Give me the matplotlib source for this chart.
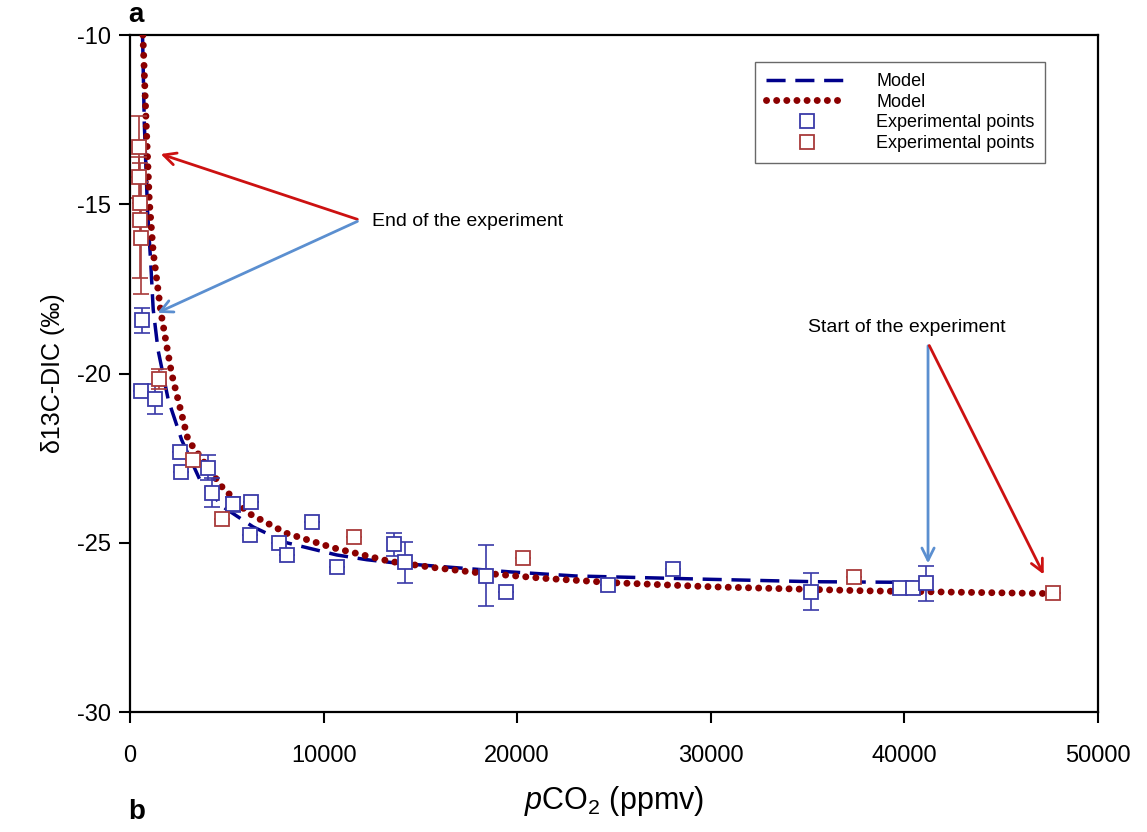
import matplotlib
matplotlib.use('Agg')
import matplotlib.pyplot as plt

# experimental points (blue series)
blue_x = [600, 550, 1290, 2580, 2620, 4050, 4220, 5300, 6230, 6200, 7710, 8090, 9380,
          10700, 13650, 14200, 18370, 19420, 24710, 28060, 35170, 39770, 40460, 41110]
blue_y = [-18.42, -20.51, -20.76, -22.31, -22.90, -22.78, -23.52, -23.86, -23.80, -24.77, -25.00, -25.36, -24.39,
          -25.73, -25.05, -25.58, -25.98, -26.44, -26.25, -25.78, -26.44, -26.33, -26.33, -26.20]
blue_err = [0.37, 0, 0.44, 0, 0, 0.37, 0.43, 0.22, 0, 0, 0, 0, 0,
            0, 0.35, 0.61, 0.90, 0, 0, 0, 0.56, 0, 0, 0.52]

# experimental points (red series)
red_x = [480, 460, 500, 520, 560, 1510, 3270, 4740, 11570, 20280, 37390, 47690]
red_y = [-13.30, -14.20, -14.96, -15.47, -16.00, -20.17, -22.56, -24.30, -24.82, -25.46, -26.02, -26.49]
red_err = [0.90, 0.60, 0, 1.70, 1.65, 0.30, 0, 0, 0, 0, 0, 0]

# model curves
mb_x = [650, 740, 910, 1070, 1200, 1450, 1980, 2670, 3620, 4810, 6360, 8100, 10680,
        12230, 13770, 19630, 23000, 30000, 35300, 40500]
mb_y = [-10.0, -12.6, -15.2, -16.7, -18.1, -19.3, -20.78, -21.96, -23.15, -23.94, -24.53, -25.0, -25.36,
        -25.5, -25.6, -25.86, -25.98, -26.08, -26.15, -26.17]

mr_x = [670, 830, 1000, 1200, 1600, 2150, 3000, 4740, 6100, 8090, 10500, 13430, 15500,
        17900, 21350, 25000, 30000, 38000, 47500]
mr_y = [-10.0, -12.5, -14.9, -16.4, -18.2, -20.0, -21.96, -23.34, -24.12, -24.72, -25.15, -25.55, -25.72,
        -25.88, -26.05, -26.18, -26.30, -26.42, -26.50]

plt.rcParams['font.family'] = ['Liberation Sans', 'DejaVu Sans']
plt.rcParams['axes.unicode_minus'] = False
plt.rcParams['mathtext.fontset'] = 'custom'
plt.rcParams['mathtext.rm'] = 'Liberation Sans'
plt.rcParams['mathtext.it'] = 'Liberation Sans:italic'

BLUE_PT = '#3a3aa8'
RED_PT = '#a83a3a'

fig = plt.figure(figsize=(11.47, 8.32), dpi=100)
ax = fig.add_axes([0.1133, 0.1442, 0.8440, 0.8137])

ax.plot(mb_x, mb_y, color='#00008b', lw=2.5, ls=(0, (5.5, 2.8)), label='Model', zorder=3)
ax.plot(mr_x, mr_y, color='#8b0000', lw=5, ls=(0, (0.01, 1.45)), dash_capstyle='round',
        label='Model', zorder=3)

ax.errorbar(blue_x, blue_y, yerr=blue_err, fmt='none', ecolor=BLUE_PT,
            elinewidth=1.2, capsize=6, capthick=1.2, zorder=4)
ax.errorbar(red_x, red_y, yerr=red_err, fmt='none', ecolor=RED_PT,
            elinewidth=1.2, capsize=6, capthick=1.2, zorder=4)
ax.plot(blue_x, blue_y, ls='none', marker='s', ms=10, mfc='white', mec=BLUE_PT, mew=1.3,
        label='Experimental points', zorder=5)
ax.plot(red_x, red_y, ls='none', marker='s', ms=10, mfc='white', mec=RED_PT, mew=1.3,
        label='Experimental points', zorder=5)

# annotations
ax.text(12500, -15.52, 'End of the experiment', fontsize=14, va='center', ha='left')
ax.annotate('', xy=(1450, -13.49), xytext=(11880, -15.47),
            arrowprops=dict(arrowstyle='->', color='#cc1111', lw=2, mutation_scale=22))
ax.annotate('', xy=(1290, -18.24), xytext=(11880, -15.47),
            arrowprops=dict(arrowstyle='->', color='#5b8fd0', lw=2, mutation_scale=22))
ax.text(35020, -18.63, 'Start of the experiment', fontsize=14, va='center', ha='left')
ax.annotate('', xy=(41220, -25.69), xytext=(41220, -19.1),
            arrowprops=dict(arrowstyle='->', color='#5b8fd0', lw=2, mutation_scale=22))
ax.annotate('', xy=(47260, -26.01), xytext=(41220, -19.1),
            arrowprops=dict(arrowstyle='->', color='#cc1111', lw=2, mutation_scale=22))

ax.set_xlim(0, 50000)
ax.set_ylim(-30, -10)
ax.set_xticks([0, 10000, 20000, 30000, 40000, 50000])
ax.set_yticks([-30, -25, -20, -15, -10])
ax.tick_params(direction='out', length=8, width=1.5, labelsize=17, pad=6)
ax.tick_params(axis='x', pad=16)
for s in ax.spines.values():
    s.set_linewidth(1.6)

ax.set_ylabel('δ13C-DIC (‰)', fontsize=18, labelpad=8)
ax.set_xlabel(r'$\it{p}$CO$_2$ (ppmv)', fontsize=22, labelpad=12)

fig.text(0.112, 0.982, 'a', fontsize=20, fontweight='bold', ha='left', va='center')
fig.text(0.112, 0.024, 'b', fontsize=20, fontweight='bold', ha='left', va='center')

leg = ax.legend(loc='upper right', bbox_to_anchor=(0.955, 0.973), fontsize=13, frameon=True,
                fancybox=False, edgecolor='#444444', handlelength=4.5, labelspacing=0.2,
                borderpad=0.6, handletextpad=1.6, numpoints=1)
leg.get_frame().set_linewidth(1.0)

fig.savefig('out.png', dpi=100)
